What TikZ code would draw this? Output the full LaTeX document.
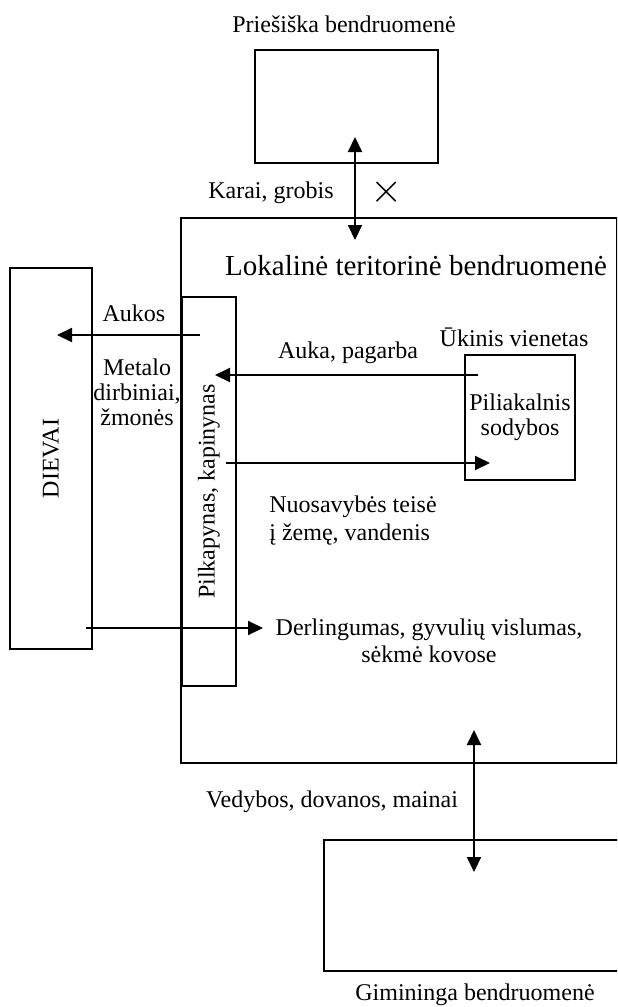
\documentclass[tikz,border=0pt]{standalone}
\usepackage{fontspec}
\setmainfont{Liberation Serif}
\usetikzlibrary{arrows.meta}

\tikzset{
  box/.style={draw, line width=1pt, inner sep=0pt},
  arr/.style={line width=1pt, -{Triangle[length=7.5pt,width=7pt]}},
  darr/.style={line width=1pt, {Triangle[length=7.5pt,width=7pt]}-{Triangle[length=7.5pt,width=7pt]}},
  txt/.style={font=\fontsize{12}{12.5}\selectfont, inner sep=0pt, align=center}
}

\begin{document}
\begin{tikzpicture}[x=0.5pt, y=-0.5pt]

    % Page frame
    \useasboundingbox (0,0) rectangle (617,1007);
    \clip (0,0) rectangle (617,1007);

    % Draw the boxes
    \node[box, minimum width=91.5pt, minimum height=56.5pt] (enemy) at (346.5,106.5) {};
    \node[box, minimum width=217.75pt, minimum height=272.5pt] (local) at (398.75,490.5) {};
    \node[box, txt, rotate=90, minimum width=190.5pt, minimum height=41pt] (gods) at (51,458.5) {DIEVAI};
    \node[box, txt, rotate=90, minimum width=194.5pt, minimum height=27pt] (graves) at (209,491.5) {Pilkapynas, kapinynas};
    \node[box, txt, minimum width=55pt, minimum height=62.5pt] (farm) at (520,417.5) {Piliakalnis\\sodybos};
    \node[box, minimum width=158pt, minimum height=65.5pt] (kin) at (482,905.5) {};

    % Define arrow end points
    \coordinate (warT) at (355,137);
    \coordinate (warB) at (355,240);
    \coordinate (aukS) at (200,335);
    \coordinate (aukE) at (57,335);
    \coordinate (pagS) at (478,375);
    \coordinate (pagE) at (215,375);
    \coordinate (nuoS) at (226,463);
    \coordinate (nuoE) at (490,463);
    \coordinate (derS) at (86,628);
    \coordinate (derE) at (263,628);
    \coordinate (kinT) at (474,730);
    \coordinate (kinB) at (474,872);

    % Draw the arrows
    \draw[darr] (warB) -- (warT);
    \draw[arr] (aukS) -- (aukE);
    \draw[arr] (pagS) -- (pagE);
    \draw[arr] (nuoS) -- (nuoE);
    \draw[arr] (derS) -- (derE);
    \draw[darr] (kinB) -- (kinT);

    % Add labels
    \node[txt] (lEnemy) at (344,24) {Priešiška bendruomenė};
    \node[txt] (lWar) at (271,193) {Karai, grobis};
    \node[inner sep=0pt] (lCross) at (387,192) {\huge$\times$};
    \node[txt, font=\fontsize{14.5}{16}\selectfont] (lLocal) at (416,266) {Lokalinė teritorinė bendruomenė};
    \node[txt] (lAukos) at (134,313) {Aukos};
    \node[txt] (lMetal) at (137,392) {Metalo\\dirbiniai,\\žmonės};
    \node[txt] (lFarm) at (514,337) {Ūkinis vienetas};
    \node[txt] (lPag) at (348,353) {Auka, pagarba};
    \node[txt, anchor=west, font=\fontsize{12}{14}\selectfont, align=left] (lNuo) at (269,521) {Nuosavybės teisė\\į žemę, vandenis};
    \node[txt, font=\fontsize{12}{13.5}\selectfont] (lDer) at (429,641) {Derlingumas, gyvulių vislumas,\\sėkmė kovose};
    \node[txt] (lVed) at (332,802) {Vedybos, dovanos, mainai};
    \node[txt] (lKin) at (475,995) {Gimininga bendruomenė};

\end{tikzpicture}
\end{document}
